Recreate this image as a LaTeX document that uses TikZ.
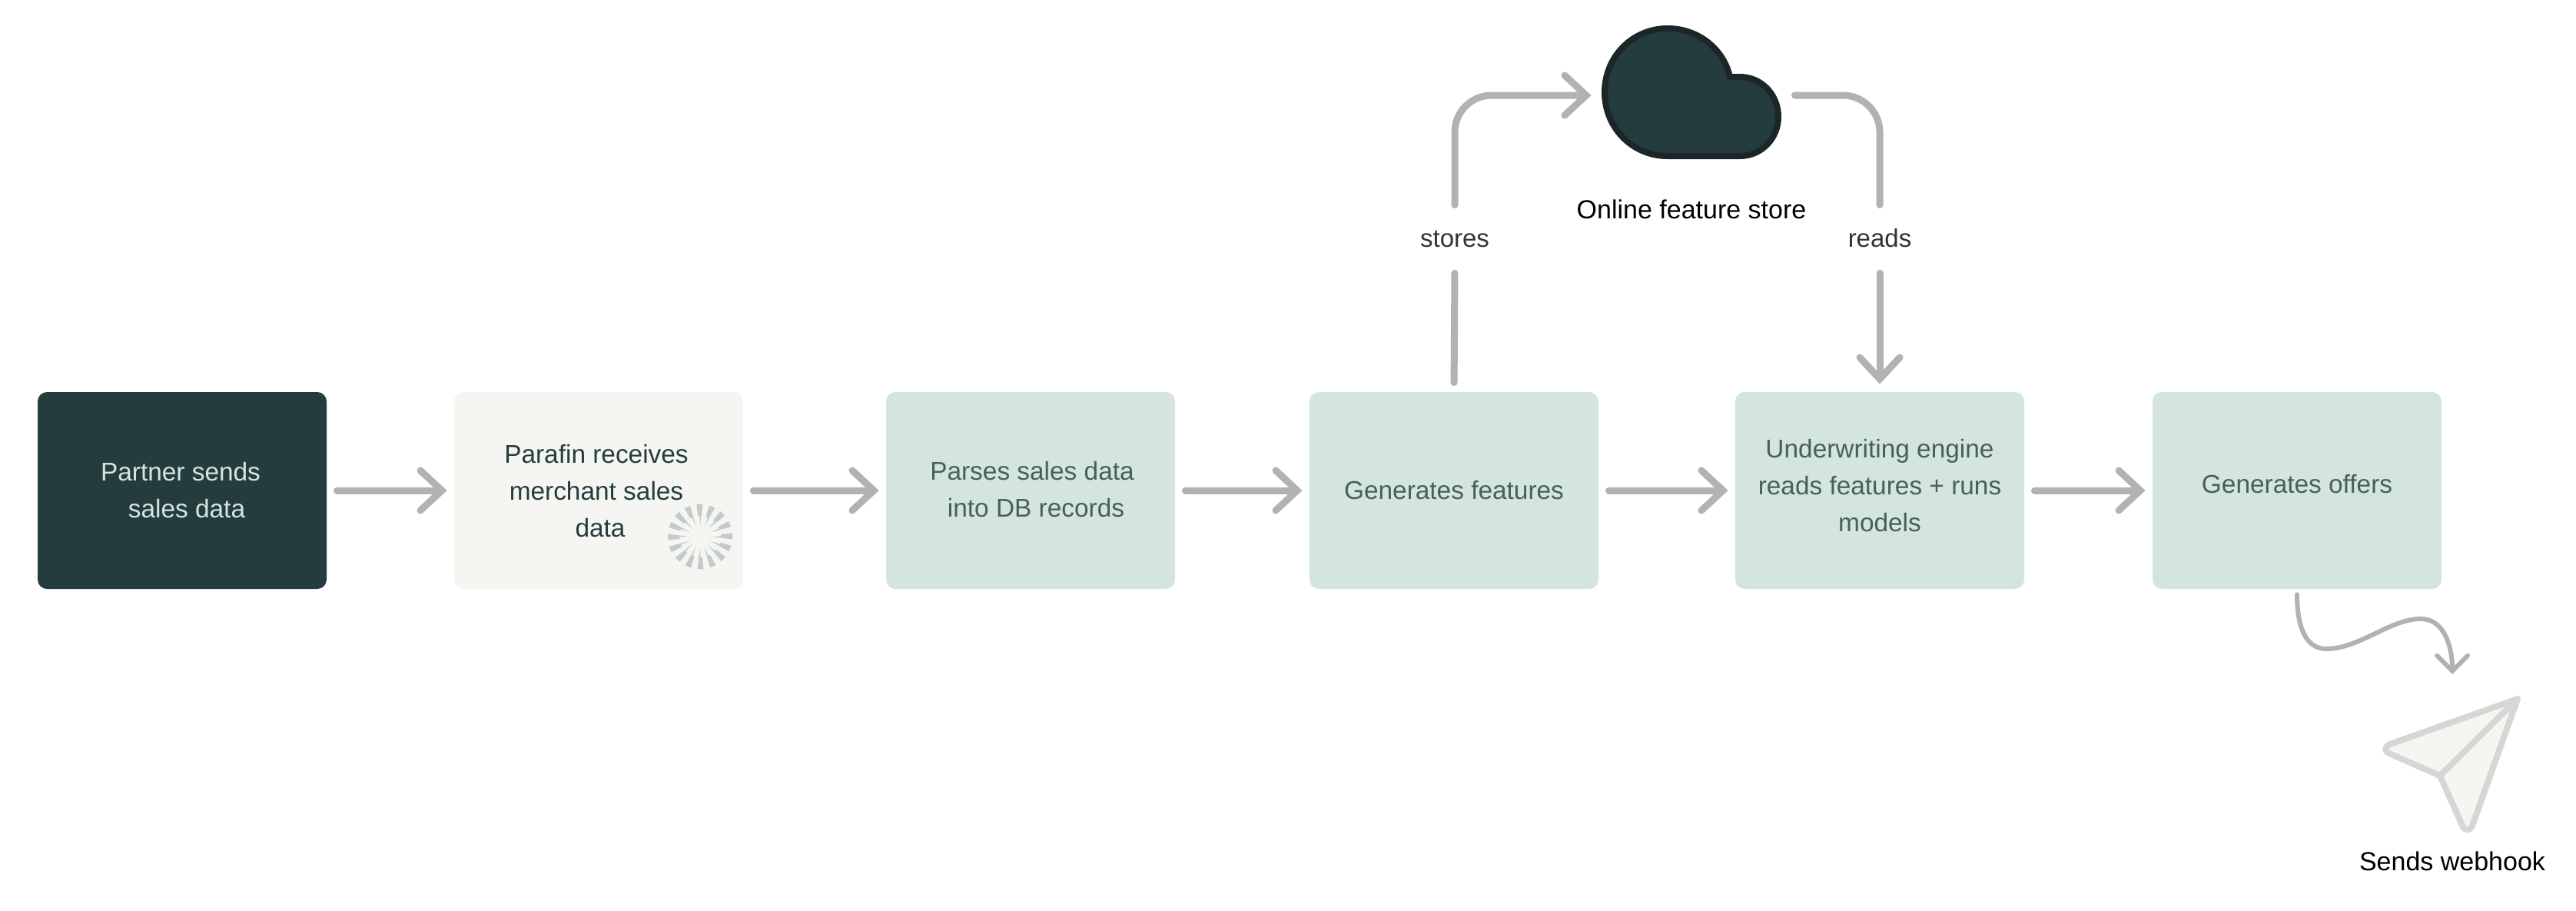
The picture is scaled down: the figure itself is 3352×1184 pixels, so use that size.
\documentclass[tikz,border=0pt]{standalone}
\usepackage{fontspec}
\setmainfont{Liberation Sans}
\usetikzlibrary{arrows.meta}
\definecolor{dark}{HTML}{253C3F}
\definecolor{mint}{HTML}{D4E5DD}
\definecolor{paper}{HTML}{F5F6F2}
\definecolor{flowgrey}{HTML}{B2B2B2}
\definecolor{greentext}{HTML}{46605F}
\definecolor{cloudedge}{HTML}{1C2628}
\definecolor{spin}{HTML}{C2CBCA}
\definecolor{planeedge}{HTML}{D6D6D4}
\tikzset{
  x=0.5pt,y=-0.5pt,
  box/.style={rectangle,rounded corners=6pt,minimum width=188pt,minimum height=128pt,inner sep=0pt,anchor=center},
  darkbox/.style={box,fill=dark},
  paperbox/.style={box,fill=paper},
  mintbox/.style={box,fill=mint},
  boxtext/.style={font=\fontsize{16.7}{24}\selectfont,align=center,inner sep=0pt,anchor=center},
  caption/.style={font=\fontsize{17}{24}\selectfont,inner sep=0pt,anchor=center},
  flow/.style={draw=flowgrey,line width=4.5pt,line cap=round,line join=round,-{Straight Barb[length=14pt,width=26pt,line width=4.5pt,line cap=round]}},
  plainflow/.style={draw=flowgrey,line width=4.5pt,line cap=round,line join=round},
  wave/.style={draw=flowgrey,line width=3pt,line cap=round,-{Straight Barb[length=10pt,width=20pt,line width=3pt,line cap=round]}},
  tag/.style={font=\fontsize{16.5}{24}\selectfont,text=black!80,inner sep=0pt,text height=10pt,text depth=0pt,minimum height=40pt,anchor=center},
}
\begin{document}
\begin{tikzpicture}
\useasboundingbox (0,0) rectangle (3352,1184);
\fill[white] (0,0) rectangle (3352,1184);
% boxes
\node[darkbox]  (a) at (237,638) {};
\node[paperbox] (b) at (779,638) {};
\node[mintbox]  (c) at (1341,638) {};
\node[mintbox]  (d) at (1892,638) {};
\node[mintbox]  (e) at (2446,638) {};
\node[mintbox]  (f) at (2989,638) {};
% box texts
\node[boxtext,text=mint] (ta) at (235,638) {Partner sends\\\hspace*{8pt}sales data};
\node[boxtext,text=dark] (tb) at (776,639) {Parafin receives\\merchant sales\\\hspace*{5pt}data};
\node[boxtext,text=greentext] (tc) at (1343,637) {Parses sales data\\\hspace*{5pt}into DB records};
\node[boxtext,text=greentext] (td) at (1892,638) {Generates features};
\node[boxtext,text=greentext] (te) at (2446,632) {Underwriting engine\\reads features + runs\\models};
\node[boxtext,text=greentext] (tf) at (2989,630) {Generates offers};
% spinner
\begin{scope}[shift={(911,698)}]
\foreach \a in {0,22.5,...,337.5}{
  \fill[spin,rotate=\a] (14,0) -- (27,-0.5) -- (27,-3) -- (42,-4.5) -- (42,3.5) -- cycle;
}
\end{scope}
% main flow
\draw[flow,shorten <=6.5pt,shorten >=4.5pt] (a.east) -- (b.west);
\draw[flow,shorten <=6.5pt,shorten >=4.5pt] (b.east) -- (c.west);
\draw[flow,shorten <=6.5pt,shorten >=4.5pt] (c.east) -- (d.west);
\draw[flow,shorten <=6.5pt,shorten >=4.5pt] (d.east) -- (e.west);
\draw[flow,shorten <=6.5pt,shorten >=4.5pt] (e.east) -- (f.west);
% cloud
\draw[fill=dark,draw=cloudedge,line width=4pt,line join=round]
  (2251,100) -- (2264,100)
  .. controls (2292,100) and (2314,123) .. (2314,152)
  .. controls (2314,180) and (2292,203) .. (2264,203)
  -- (2170,203)
  .. controls (2124,203) and (2088,166) .. (2088,120)
  .. controls (2088,74) and (2124,37) .. (2170,37)
  .. controls (2210,37) and (2243,64) .. (2251,100) -- cycle;
\node[minimum width=117pt,minimum height=87pt,inner sep=0pt] (cloud) at (2201,124) {};
\node[caption,text=black] (cloudlabel) at (2201,272) {Online feature store};
% labels on connectors
\node[tag] (stores) at (1893,311) {stores};
\node[tag] (reads) at (2446,311) {reads};
% connectors via cloud
\draw[plainflow,shorten <=6pt,shorten >=2pt] (d.north) -- (stores.south);
\draw[flow,rounded corners=24pt,shorten <=2pt,shorten >=6.5pt] (stores.north) |- (cloud.west);
\draw[plainflow,rounded corners=24pt,shorten <=8.5pt,shorten >=2pt] (cloud.east) -| (reads.north);
\draw[flow,shorten <=2pt,shorten >=5pt] (reads.south) -- (e.north);
% plane
\draw[fill=paper,draw=planeedge,line width=4pt,line join=round]
  (3276,909) -- (3110,968)
  .. controls (3103,971) and (3102,977) .. (3109,980)
  -- (3175,1009) -- (3204,1074)
  .. controls (3207,1081) and (3214,1081) .. (3217,1074)
  -- cycle;
\draw[draw=planeedge,line width=4pt,line cap=round] (3175,1009) -- (3276,909);
\node[caption,text=black] (plabel) at (3191,1120) {Sends webhook};
% wavy connector
\coordinate (waveend) at (3191,877);
\draw[wave,shorten <=3.5pt] (f.south)
  .. controls (2989,815) and (3000,844) .. (3027,844)
  .. controls (3070,844) and (3110,805) .. (3150,805)
  .. controls (3180,805) and (3191,840) .. (waveend);
\end{tikzpicture}
\end{document}
